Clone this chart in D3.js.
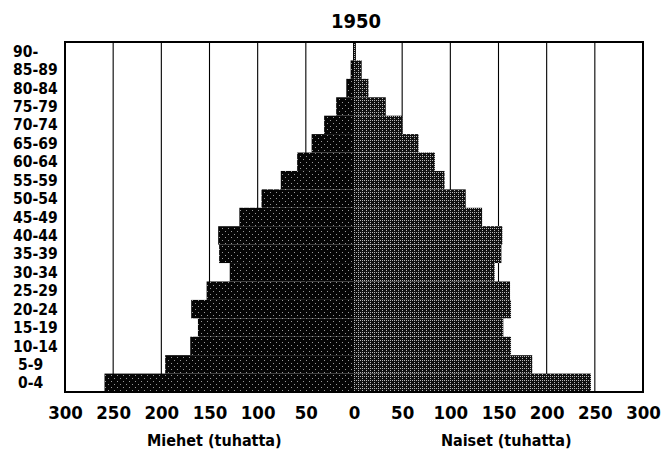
<!DOCTYPE html>
<html>
<head>
<meta charset="utf-8">
<script src="https://cdn.jsdelivr.net/npm/d3@7"></script>
<style>
  html, body { margin: 0; padding: 0; background: #fff; }
  svg text { font-family: "DejaVu Sans Condensed", "DejaVu Sans", sans-serif; font-stretch: condensed; font-weight: bold; fill: #000; }
</style>
</head>
<body>
<svg id="chart" width="671" height="450"></svg>
<script>
// Data (thousands), read from the 1950 pyramid
const title = "1950";
const ageGroups = ["0-4","5-9","10-14","15-19","20-24","25-29","30-34","35-39","40-44","45-49","50-54","55-59","60-64","65-69","70-74","75-79","80-84","85-89","90-"];
const men   = [259, 196, 170, 162, 169, 153, 129, 140, 141, 119, 96, 76, 59, 44, 31, 18.5, 8, 3.5, 1];
const women = [246, 185, 163, 155, 163, 162, 146, 153, 154, 133, 116, 94, 84, 67, 50, 33, 15, 8, 2];
const tickValues = [-300,-250,-200,-150,-100,-50,0,50,100,150,200,250,300];
const menLabel = "Miehet (tuhatta)";
const womenLabel = "Naiset (tuhatta)";

const svg = d3.select("#chart");
const pL = 65, pR = 643, pT = 42, pB = 392;

const x = d3.scaleLinear().domain([-300, 300]).range([pL, pR]);
const y = d3.scaleBand().domain(ageGroups).range([pB, pT]).padding(0);

// texture pattern: dark halftone
const defs = svg.append("defs");
const pat = defs.append("pattern").attr("id","tex").attr("patternUnits","userSpaceOnUse")
  .attr("width", 6).attr("height", 6);
pat.append("rect").attr("width",6).attr("height",6).attr("fill","#050505");
[[0,0],[3,3]].forEach(([a,b]) => pat.append("rect").attr("x",a).attr("y",b).attr("width",1).attr("height",1).attr("fill","#9a9a9a"));

const pat2 = defs.append("pattern").attr("id","tex2").attr("patternUnits","userSpaceOnUse")
  .attr("width", 4).attr("height", 4);
pat2.append("rect").attr("width",4).attr("height",4).attr("fill","#101010");
[[0,0],[2,2],[2,0]].forEach(([a,b]) => pat2.append("rect").attr("x",a).attr("y",b).attr("width",1).attr("height",1).attr("fill","#b8b8b8"));

// gridlines
svg.append("g").selectAll("line").data(tickValues.filter(d => Math.abs(d) !== 300)).join("line")
  .attr("x1", d => x(d)).attr("x2", d => x(d))
  .attr("y1", pT).attr("y2", pB)
  .attr("stroke", "#000").attr("stroke-width", 1.1);

// bars
const rows = ageGroups.map((a, i) => ({age: a, m: men[i], w: women[i]}));
svg.append("g").selectAll("rect.m").data(rows).join("rect").attr("class","m")
  .attr("x", d => x(-d.m)).attr("width", d => x(0) - x(-d.m))
  .attr("y", d => y(d.age)).attr("height", y.bandwidth())
  .attr("fill", "url(#tex)");
svg.append("g").selectAll("rect.w").data(rows).join("rect").attr("class","w")
  .attr("x", x(0)).attr("width", d => x(d.w) - x(0))
  .attr("y", d => y(d.age)).attr("height", y.bandwidth())
  .attr("fill", "url(#tex2)");

// frame
svg.append("rect").attr("x", pL).attr("y", pT).attr("width", pR - pL).attr("height", pB - pT)
  .attr("fill", "none").attr("stroke", "#000").attr("stroke-width", 2);

// x axis labels
const xAxis = d3.axisBottom(x).tickValues(tickValues).tickSize(0).tickPadding(0)
  .tickFormat(d => String(Math.abs(d)));
const gx = svg.append("g").attr("transform", `translate(0,${pB})`).call(xAxis);
gx.select(".domain").remove();
gx.attr("font-family", null).attr("font-size", null);
gx.selectAll("text").attr("font-size", 18.5).attr("dy", null).attr("y", 27).attr("fill", "#000");

// y labels
svg.append("g").selectAll("text").data(ageGroups).join("text")
  .attr("x", d => /^\d-/.test(d) ? 18 : 13)
  .attr("y", d => y(d) + y.bandwidth() / 2)
  .attr("dy", "0.36em")
  .attr("font-size", 15.5)
  .text(d => d);

// title
svg.append("text").attr("x", x(0) + 2).attr("y", 28).attr("text-anchor", "middle")
  .attr("font-size", 20).text(title);

// axis titles
svg.append("text").attr("x", x(-145)).attr("y", 446).attr("text-anchor", "middle")
  .attr("font-size", 16).text(menLabel);
svg.append("text").attr("x", x(158)).attr("y", 446).attr("text-anchor", "middle")
  .attr("font-size", 16).text(womenLabel);
</script>
</body>
</html>
